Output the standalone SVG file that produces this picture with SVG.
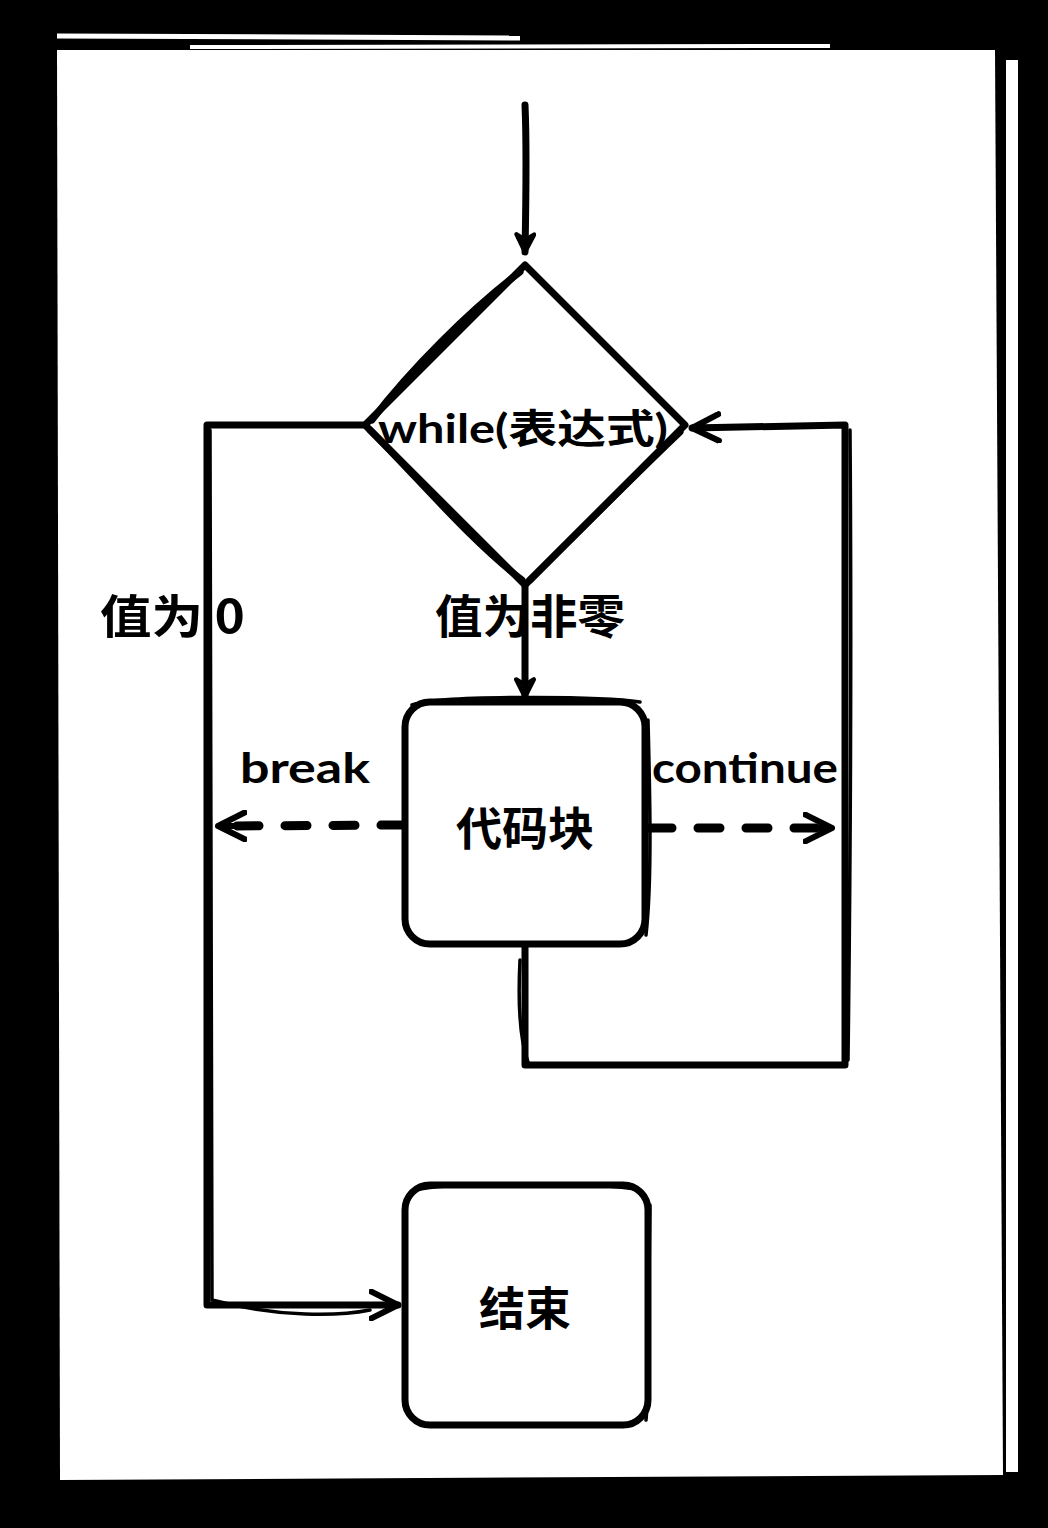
<svg xmlns="http://www.w3.org/2000/svg" width="1048" height="1528" viewBox="0 0 1048 1528">
<style>
.s{fill:none;stroke:#000;stroke-width:7;stroke-linecap:round;stroke-linejoin:round}
.t{fill:none;stroke:#000;stroke-width:3.5;stroke-linecap:round;stroke-linejoin:round}
.d{fill:none;stroke:#000;stroke-width:9;stroke-linecap:round;stroke-dasharray:22 26}
.lbl{font-family:"Noto Sans CJK SC","Lato",sans-serif;font-weight:bold;fill:#000}
.lat{font-family:"Lato","Noto Sans CJK SC",sans-serif;font-weight:bold;fill:#000}
</style>
<defs>
<marker id="ah" viewBox="0 0 20 20" refX="18" refY="10" markerWidth="22" markerHeight="22" markerUnits="userSpaceOnUse" orient="auto">
<path d="M2,2 L18,10 L2,18 L7,10 Z" fill="none" stroke="#000" stroke-width="4" stroke-linejoin="round"/>
</marker>
<marker id="ah2" viewBox="0 0 24 24" refX="22" refY="12" markerWidth="32" markerHeight="32" markerUnits="userSpaceOnUse" orient="auto">
<path d="M2,2 L22,12 L2,22 M8,12 L22,12" fill="none" stroke="#000" stroke-width="4.5" stroke-linecap="round" stroke-linejoin="round"/>
</marker>
</defs>
<rect x="0" y="0" width="1048" height="1528" fill="#000"/>
<g id="paper">
<path d="M57,50 L995,50 L1003,1475 L60,1480 Z" fill="#fff"/>
<path d="M57,36 L520,38" stroke="#fff" stroke-width="5" fill="none"/>
<path d="M190,47 L830,46" stroke="#fff" stroke-width="4" fill="none"/>
<rect x="1006" y="60" width="12" height="1412" fill="#fff"/>
</g>
<g id="connectors">
<path class="s" d="M525,105 C527,150 526,200 525,252" marker-end="url(#ah)"/>
<path class="s" d="M525,585 L525,697" marker-end="url(#ah)"/>
<path class="s" d="M365,425 L207,425 L207,1305 L398,1305" marker-end="url(#ah2)"/>
<path class="t" d="M210,430 C212,800 210,1100 212,1300 C280,1318 340,1316 370,1310"/>
<path class="s" d="M525,945 L525,1065 L845,1065 L845,425 L692,428" marker-end="url(#ah2)"/>
<path class="t" d="M520,960 C518,1000 520,1040 528,1062 M850,430 C852,700 850,900 848,1060"/>
<path class="d" d="M403,825 L218,826" marker-end="url(#ah2)"/>
<path class="d" d="M650,828 L832,828" marker-end="url(#ah2)"/>
</g>
<g id="decision">
<path class="s" d="M525,265 L685,425 L525,585 L365,425 Z" fill="#fff"/>
<path class="s" d="M520,272 C470,310 410,370 372,420 M370,430 C420,480 470,540 522,580 M530,580 C580,530 640,470 680,432" stroke-width="5"/>
<text class="lat" x="378" y="443" font-size="40" textLength="290" lengthAdjust="spacingAndGlyphs">while(表达式)</text>
</g>
<g id="code-block">
<rect class="s" x="405" y="702" width="240" height="242" rx="25" fill="#fff"/>
<path class="t" d="M412,705 C440,695 600,696 640,702 M648,720 C650,800 652,880 646,935"/>
<text class="lbl" x="525" y="845" font-size="46" text-anchor="middle">代码块</text>
</g>
<g id="end-block">
<rect class="s" x="405" y="1185" width="243" height="240" rx="25" fill="#fff"/>
<path class="t" d="M415,1190 C450,1182 600,1182 640,1190 M650,1205 C648,1300 650,1380 646,1420"/>
<text class="lbl" x="525" y="1325" font-size="46" text-anchor="middle">结束</text>
</g>
<g id="labels">
<text class="lbl" x="100" y="633" font-size="46" textLength="145" lengthAdjust="spacingAndGlyphs">值为 0</text>
<text class="lbl" x="435" y="633" font-size="46" textLength="190" lengthAdjust="spacingAndGlyphs">值为非零</text>
<text class="lat" x="240" y="783" font-size="42" textLength="130" lengthAdjust="spacingAndGlyphs">break</text>
<text class="lat" x="652" y="783" font-size="42" textLength="186" lengthAdjust="spacingAndGlyphs">continue</text>
</g>
</svg>
